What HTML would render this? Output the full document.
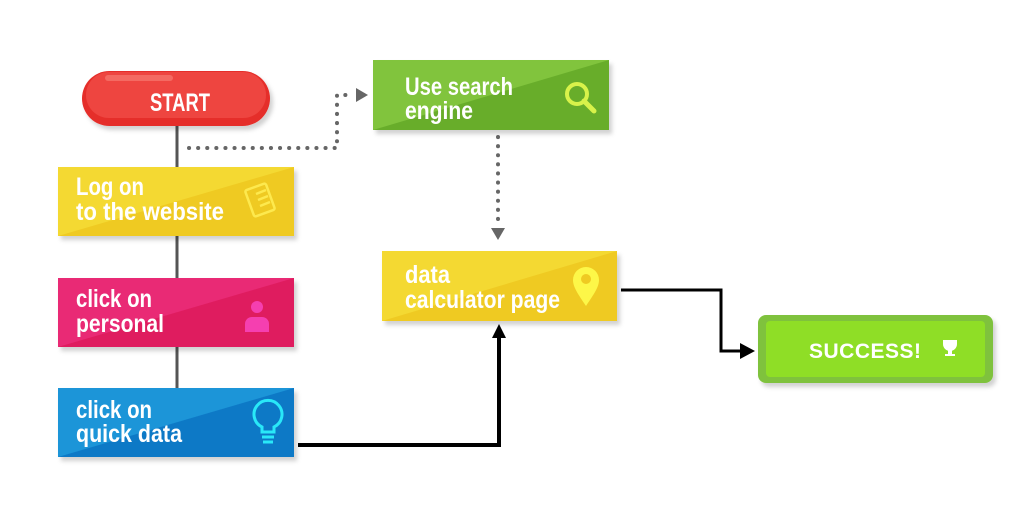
<!DOCTYPE html>
<html><head><meta charset="utf-8"><style>
html,body{margin:0;padding:0;background:#fff;width:1024px;height:514px;overflow:hidden}
text{font-family:"Liberation Sans",sans-serif;font-weight:bold;fill:#fff}
</style></head><body>
<svg width="1024" height="514" viewBox="0 0 1024 514" xmlns="http://www.w3.org/2000/svg">
<defs>
<filter id="sh" x="-10%" y="-10%" width="130%" height="140%"><feDropShadow dx="3" dy="4" stdDeviation="2" flood-color="#000" flood-opacity="0.18"/></filter>
</defs>
<line x1="177" y1="120" x2="177" y2="392" stroke="#555" stroke-width="3"/>
<polyline points="189,148 337,148 337,95 352,95" fill="none" stroke="#666" stroke-width="4" stroke-linecap="round" stroke-dasharray="0.1 9"/>
<polygon points="356,88 368,95 356,102" fill="#666"/>
<line x1="498" y1="137" x2="498" y2="222" stroke="#666" stroke-width="4" stroke-linecap="round" stroke-dasharray="0.1 9"/>
<polygon points="491,228 505,228 498,240" fill="#666"/>
<polyline points="298,445 499,445 499,336" fill="none" stroke="#000" stroke-width="4"/>
<polygon points="492,338 506,338 499,324" fill="#000"/>
<polyline points="621,290 721,290 721,351 742,351" fill="none" stroke="#000" stroke-width="3"/>
<polygon points="740,343 755,351 740,359" fill="#000"/>
<g filter="url(#sh)">
<rect x="82" y="71" width="188" height="55" rx="27.5" fill="#e52f2a"/>
<rect x="86" y="72" width="180" height="46" rx="23" fill="#ee4540"/>
<rect x="105" y="75" width="68" height="6" rx="3" fill="#f46a62"/>
</g>
<text x="180" y="111" font-size="25" text-anchor="middle" textLength="60" lengthAdjust="spacingAndGlyphs">START</text>
<g filter="url(#sh)">
<rect x="58" y="167" width="236" height="69" fill="#efca22"/>
<polygon points="58,167 294,167 58,236" fill="#f4d933"/>
<rect x="58" y="278" width="236" height="69" fill="#df1c5e"/>
<polygon points="58,278 294,278 58,347" fill="#e92a75"/>
<rect x="58" y="388" width="236" height="69" fill="#1079c6"/>
<polygon points="58,388 294,388 58,457" fill="#1b95d8"/>
<rect x="373" y="60" width="236" height="70" fill="#67ad2c"/>
<polygon points="373,60 609,60 373,130" fill="#81c43d"/>
<rect x="382" y="251" width="235" height="70" fill="#efca22"/>
<polygon points="382,251 617,251 382,321" fill="#f4d933"/>
<rect x="758" y="315" width="235" height="68" rx="8" fill="#7fc23e"/>
<rect x="766" y="321" width="219" height="56" rx="4" fill="#8fde26"/>
</g>
<text font-size="25"><tspan x="76" y="195" textLength="68" lengthAdjust="spacingAndGlyphs">Log on</tspan><tspan x="76" y="220" textLength="148" lengthAdjust="spacingAndGlyphs">to the website</tspan></text>
<text font-size="25"><tspan x="76" y="307" textLength="76" lengthAdjust="spacingAndGlyphs">click on</tspan><tspan x="76" y="332" textLength="88" lengthAdjust="spacingAndGlyphs">personal</tspan></text>
<text font-size="25"><tspan x="76" y="418" textLength="76" lengthAdjust="spacingAndGlyphs">click on</tspan><tspan x="76" y="442" textLength="106" lengthAdjust="spacingAndGlyphs">quick data</tspan></text>
<text font-size="25"><tspan x="405" y="95" textLength="108" lengthAdjust="spacingAndGlyphs">Use search</tspan><tspan x="405" y="119" textLength="68" lengthAdjust="spacingAndGlyphs">engine</tspan></text>
<text font-size="25"><tspan x="405" y="283" textLength="45" lengthAdjust="spacingAndGlyphs">data</tspan><tspan x="405" y="308" textLength="155" lengthAdjust="spacingAndGlyphs">calculator page</tspan></text>
<text x="809" y="358" font-size="21" textLength="112" lengthAdjust="spacing">SUCCESS!</text>
<g fill="none" stroke="#fde94e" stroke-width="2.5">
<rect x="249" y="186" width="22" height="28" rx="2" transform="rotate(-20 260 200)"/>
<line x1="256" y1="194" x2="266" y2="190"/><line x1="258" y1="200" x2="268" y2="196"/><line x1="260" y1="206" x2="270" y2="202"/>
</g>
<circle cx="577" cy="94" r="10" fill="none" stroke="#d8f24a" stroke-width="4"/>
<line x1="584" y1="101" x2="594" y2="111" stroke="#d8f24a" stroke-width="5" stroke-linecap="round"/>
<circle cx="257" cy="307" r="6" fill="#f53fb0"/>
<path d="M245,332 v-8 a7,7 0 0 1 7,-7 h10 a7,7 0 0 1 7,7 v8 z" fill="#f53fb0"/>
<g fill="none" stroke="#29e8f8" stroke-width="3">
<path d="M262,432 v-5 a14,14 0 1 1 12,0 v5 z"/>
<line x1="262" y1="437" x2="274" y2="437"/><line x1="263" y1="442" x2="273" y2="442"/>
</g>
<path d="M586,306 C578,294 573,287 573,280 a13,13 0 0 1 26,0 c0,7 -5,14 -13,26 z" fill="#fdf748"/>
<circle cx="586" cy="279" r="5" fill="#efca22"/>
<path d="M943,340 h14 v4 a7,7 0 0 1 -14,0 z M948,350 h4 v4 h3 v2 h-10 v-2 h3 z" fill="#fff"/>
</svg>
</body></html>
